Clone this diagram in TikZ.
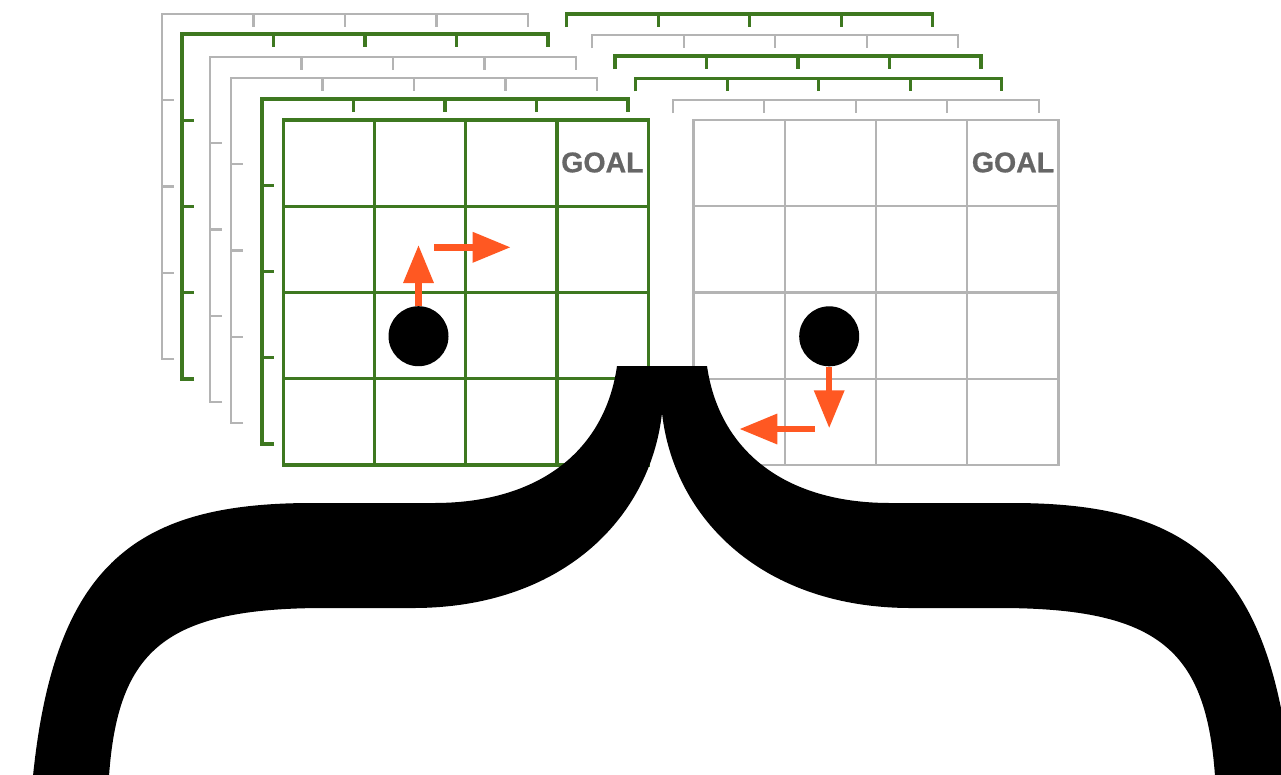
\documentclass[tikz,border=0pt]{standalone}
\usepackage{fontspec}
\setmainfont{Liberation Sans}
\newfontfamily\goalfont{Liberation Sans}[BoldFeatures={FakeBold=0.7}]
\usetikzlibrary{arrows.meta}
\definecolor{gridgreen}{RGB}{62,120,32}
\definecolor{gridgray}{RGB}{180,180,180}
\definecolor{goalgray}{RGB}{102,102,102}
\definecolor{arroworange}{RGB}{255,88,34}
\newcommand\layerL[3]{%
  \draw[#3] ({#1+12},{#2+345}) -- (#1,{#2+345}) -- (#1,#2) -- ({#1+366},#2) -- ({#1+366},{#2+13});
  \foreach \k in {1,2,3}{\draw[#3] ({#1+91.5*\k},#2) -- ++(0,13);}
  \foreach \k in {1,2,3}{\draw[#3] (#1,{#2+86.25*\k}) -- ++(12,0);}
}
\newcommand\layerR[3]{%
  \draw[#3] (#1,{#2+13}) -- (#1,#2) -- ({#1+366},#2) -- ({#1+366},{#2+13});
  \foreach \k in {1,2,3}{\draw[#3] ({#1+91.5*\k},#2) -- ++(0,13);}
}
\newcommand\frontgrid[3]{%
  \draw[#3] (#1,#2) rectangle ({#1+365},{#2+345});
  \foreach \k in {1,2,3}{\draw[#3] ({#1+91.25*\k},#2) -- ({#1+91.25*\k},{#2+345});}
  \foreach \k in {1,2,3}{\draw[#3] (#1,{#2+86.25*\k}) -- ({#1+365},{#2+86.25*\k});}
}
\begin{document}
\begin{tikzpicture}[x=1pt,y=-1pt,
  gl/.style={draw=gridgreen, line width=3.3pt, line join=miter},
  gy/.style={draw=gridgray, line width=2.2pt, line join=miter},
  dot/.style={circle, fill=black, minimum size=60pt, inner sep=0pt},
  oarrow/.style={draw=arroworange, line width=6.5pt, -{Triangle[length=38pt,width=29pt]}},
  goal/.style={text=goalgray, font=\goalfont\fontsize{28.5}{28.5}\selectfont\bfseries, inner sep=0pt, anchor=base}]
\fill[white] (0,0) rectangle (1281,774);
\useasboundingbox (0,0) rectangle (1281,774);
% left stack
\layerL{162}{14}{gy}
\layerL{182}{34}{gl}
\layerL{210}{57}{gy}
\layerL{231}{78}{gy}
\layerL{262}{99}{gl}
\frontgrid{283.3}{120}{gl}
% right stack
\layerR{566.7}{14}{gl}
\layerR{592.3}{35}{gy}
\layerR{615}{56}{gl}
\layerR{635.7}{78.3}{gl}
\layerR{672.7}{100}{gy}
\frontgrid{693.5}{120}{gy}
% labels
\node[goal] (g1) at (602.4,172.3) {GOAL};
\node[goal] (g2) at (1013,172.3) {GOAL};
% agents
\node[dot] (c1) at (418.5,336.2) {};
\node[dot] (c2) at (829.2,336.3) {};
\coordinate (u1) at (418.5,245);
\coordinate (r0) at (434.3,247.3);
\coordinate (r1) at (510.7,247.3);
\coordinate (d1) at (829.2,428.3);
\coordinate (l0) at (815,429);
\coordinate (l1) at (739.3,429);
\draw[oarrow] (c1.north) -- (u1);
\draw[oarrow] (r0) -- (r1);
\draw[oarrow] (c2.south) -- (d1);
\draw[oarrow] (l0) -- (l1);
% brace
\begin{scope}
\clip (0,0) rectangle (1281,774);
\fill[black] (33,776) .. controls (55,560) and (140,503) .. (312,503) -- (434,503)
  .. controls (540,503) and (605,450) .. (617,366) -- (707,366)
  .. controls (719,450) and (784,503) .. (890,503) -- (1012,503)
  .. controls (1184,503) and (1269,560) .. (1291,776) -- (1215,776)
  .. controls (1206,650) and (1159,608) .. (999,608) -- (911,608)
  .. controls (764,608) and (674,520) .. (662,413)
  .. controls (650,520) and (560,608) .. (413,608) -- (325,608)
  .. controls (165,608) and (118,650) .. (109,776) -- cycle;
\end{scope}
\end{tikzpicture}
\end{document}
